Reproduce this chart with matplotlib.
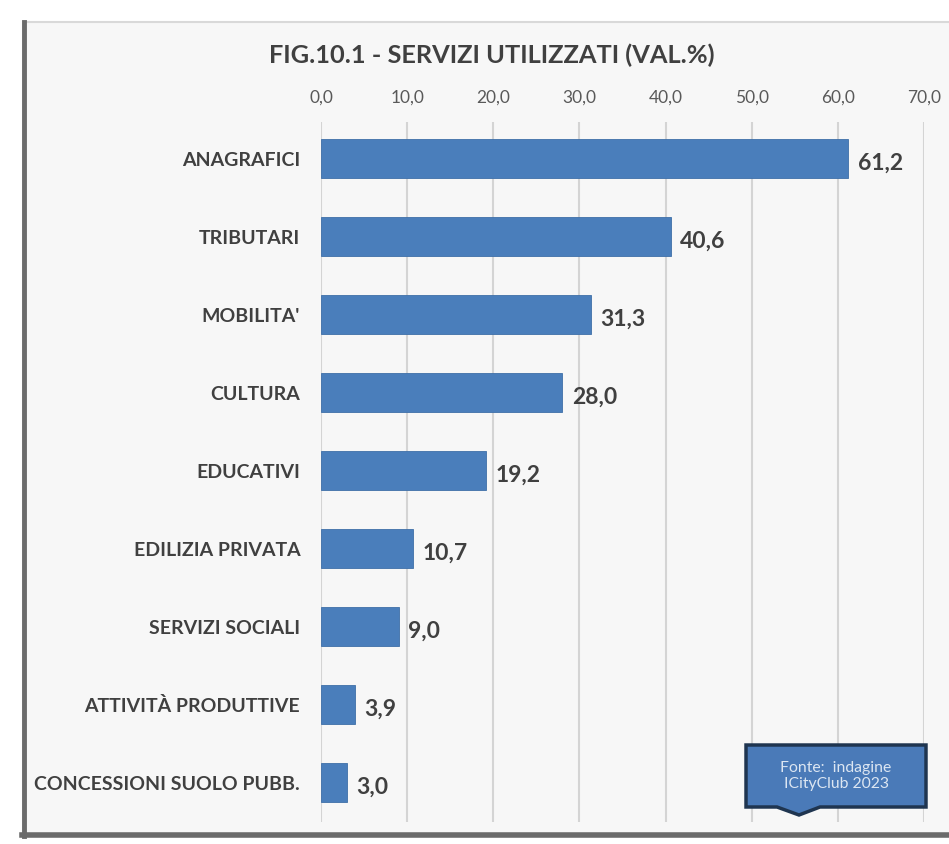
import matplotlib.pyplot as plt
import matplotlib.patches as patches
from matplotlib.lines import Line2D

plt.rcParams['font.family'] = ['Lato', 'DejaVu Sans']

CATEGORIES = ["ANAGRAFICI", "TRIBUTARI", "MOBILITA'", "CULTURA", "EDUCATIVI",
              "EDILIZIA PRIVATA", "SERVIZI SOCIALI", "ATTIVITÀ PRODUTTIVE",
              "CONCESSIONI SUOLO PUBB."]
VALUES = [61.2, 40.6, 31.3, 28.0, 19.2, 10.7, 9.0, 3.9, 3.0]
XTICKS = [0, 10, 20, 30, 40, 50, 60, 70]

W, H = 949, 844
BAR_COLOR = "#4a7ebb"
TEXT_DARK = "#404040"


def fx(px):
    return px / W


def fy(py):
    return 1 - py / H


def main():
    fig = plt.figure(figsize=(W / 100, H / 100), dpi=100)
    fig.patch.set_facecolor("white")

    # cornice del grafico
    frame = patches.Rectangle((fx(23), fy(835)), fx(960) - fx(23), fy(22) - fy(835),
                              transform=fig.transFigure, facecolor="#f7f7f7",
                              edgecolor="#d9d9d9", linewidth=1.5, zorder=-2)
    fig.patches.append(frame)
    fig.lines.append(Line2D([fx(24), fx(24)], [fy(22), fy(836)], transform=fig.transFigure,
                            color="#6b6b6b", linewidth=3.5, zorder=-1))
    fig.lines.append(Line2D([fx(22), fx(949)], [fy(835), fy(835)], transform=fig.transFigure,
                            color="#6b6b6b", linewidth=4, zorder=-1))

    ax = fig.add_axes([fx(321), fy(822), fx(924) - fx(321), fy(122) - fy(822)])
    ax.set_facecolor("none")
    ax.set_zorder(2)

    y = list(range(len(CATEGORIES)))
    ax.barh(y, VALUES, height=0.5, color=BAR_COLOR, edgecolor="#3f6fa8", linewidth=0.6, zorder=3)
    for yi, v in zip(y, VALUES):
        ax.text(v + 1.1, yi + 0.06, f"{v:.1f}".replace(".", ","), va="center", ha="left",
                fontsize=16.5, fontweight="bold", color=TEXT_DARK)

    ax.set_xlim(0, 70)
    ax.set_ylim(len(CATEGORIES) - 0.5, -0.47)
    ax.set_yticks(y)
    ax.set_yticklabels(CATEGORIES, fontsize=14, fontweight="bold", color=TEXT_DARK)
    ax.set_xticks(XTICKS)
    ax.set_xticklabels([f"{t:.1f}".replace(".", ",") for t in XTICKS], fontsize=12.5, color="#595959")
    ax.xaxis.tick_top()
    ax.tick_params(axis="both", length=0)
    ax.tick_params(axis="x", pad=12)
    ax.tick_params(axis="y", pad=15)
    ax.grid(axis="x", color="#d4d4d4", linewidth=1.5, zorder=0)
    for s in ax.spines.values():
        s.set_visible(False)

    fig.text(fx(492), fy(55), "FIG.10.1 - SERVIZI UTILIZZATI (VAL.%)", ha="center", va="center",
             fontsize=18.3, fontweight="bold", color=TEXT_DARK)

    # riquadro fonte
    pts = [(746, 745), (926, 745), (926, 807), (820, 807), (799, 815), (777, 807), (746, 807)]
    callout = patches.Polygon([(fx(a), fy(b)) for a, b in pts], closed=True,
                              transform=fig.transFigure, facecolor="#4a7ab8",
                              edgecolor="#1f3550", linewidth=2.5, zorder=5)
    fig.patches.append(callout)
    fig.text(fx(836), fy(776), "Fonte:  indagine\nICityClub 2023", ha="center", va="center",
             fontsize=11.3, color="#dce6f2", linespacing=1.15, zorder=6)

    fig.savefig("out.png", dpi=100)


if __name__ == "__main__":
    main()
